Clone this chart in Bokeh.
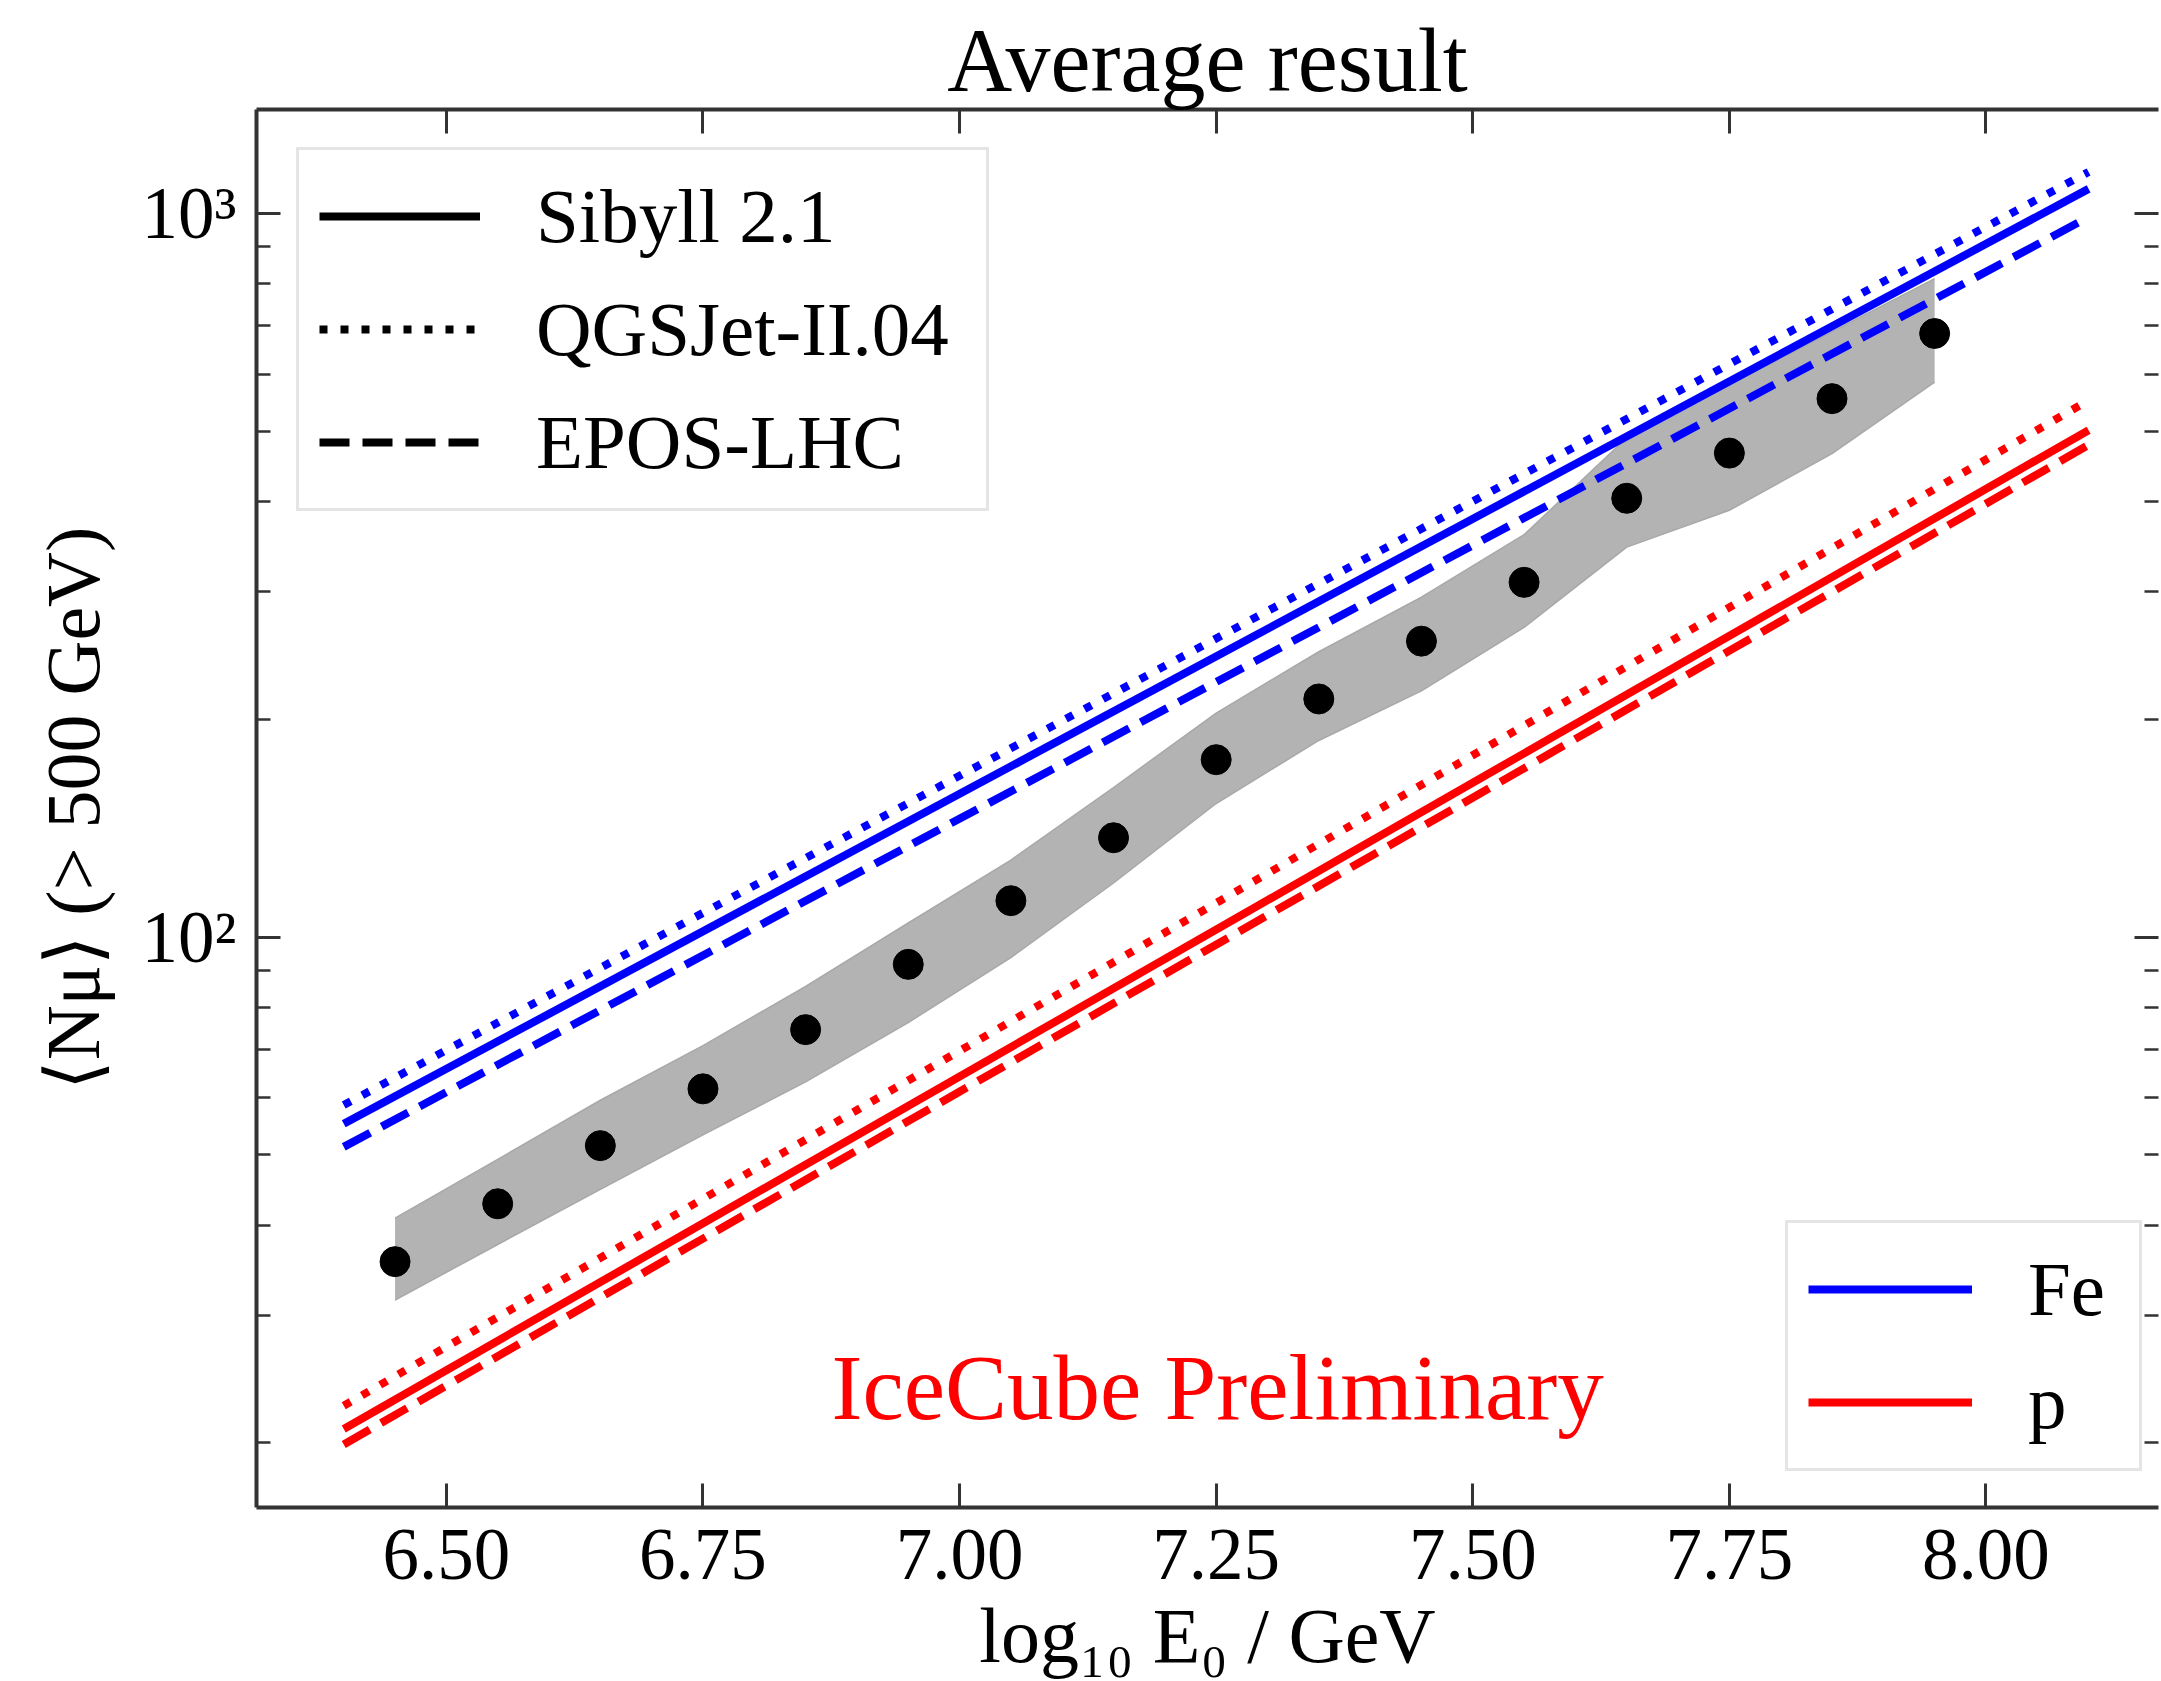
from bokeh.plotting import figure
from bokeh.models import (Range1d, LinearAxis, LogAxis, FixedTicker, PrintfTickFormatter,
                          CustomJSTickFormatter, Legend, LegendItem, Label)
from bokeh.embed import file_html
from bokeh.resources import INLINE

# ---------------- data ----------------
x_points = [6.45, 6.55, 6.65, 6.75, 6.85, 6.95, 7.05, 7.15,
            7.25, 7.35, 7.45, 7.55, 7.65, 7.75, 7.85, 7.95]
n_mu = [35.6, 42.8, 51.5, 61.7, 74.5, 91.7, 112.3, 137.2,
        175.9, 213.4, 256.5, 309.3, 404.2, 466.7, 555.0, 682.8]
band_upper = [40.9, 49.3, 59.5, 70.8, 85.5, 104.6, 127.8, 161.0,
              204.0, 248.0, 295.0, 360.0, 490.0, 580.0, 687.0, 813.0]
band_lower = [31.5, 37.6, 44.8, 53.3, 63.1, 76.2, 93.7, 118.8,
              153.0, 187.0, 219.0, 268.0, 346.0, 389.0, 466.0, 585.0]

x_model = [6.4, 8.1]
fe_sibyll = [55.2, 1082.0]
fe_qgsjet = [58.6, 1142.0]
fe_epos = [51.3, 989.0]
p_sibyll = [20.9, 502.0]
p_qgsjet = [22.5, 552.0]
p_epos = [19.9, 479.0]

x_ticks = [6.50, 6.75, 7.00, 7.25, 7.50, 7.75, 8.00]
y_major_ticks = [100, 1000]
y_tick_labels = {100: "10\u00b2", 1000: "10\u00b3"}
y_minor_ticks = [20, 30, 40, 50, 60, 70, 80, 90,
                 200, 300, 400, 500, 600, 700, 800, 900]

model_names = ["Sibyll 2.1", "QGSJet-II.04", "EPOS-LHC"]
element_names = ["Fe", "p"]

# legend proxy lines sit outside the visible ranges
proxy_x = [6.0, 6.1]
proxy_y = [1.0, 1.0]

# ---------------- style ----------------
FONT = "Liberation Serif"
SPINE = "#333333"
DOT = "8 13"
DASH = "30 13"
LW = 8

W, H = 2161, 1681
p = figure(width=W, height=H,
           x_range=Range1d(6.315, 8.1681), y_range=Range1d(16.28, 1393.0),
           y_axis_type="log", output_backend="svg", toolbar_location=None,
           min_border_left=256, min_border_right=3, min_border_top=109,
           min_border_bottom=173)
p.outline_line_color = None
p.xgrid.visible = False
p.ygrid.visible = False
p.background_fill_color = "white"
p.border_fill_color = "white"

p.title.text = "Average result"
p.title.text_font = FONT
p.title.text_font_size = "90px"
p.title.text_font_style = "normal"
p.title.text_color = "black"
p.title.align = "center"
p.title.standoff = 0
p.title.offset = 7


def style_axis(ax, labels=True):
    ax.axis_line_color = SPINE
    ax.axis_line_width = 4
    ax.major_tick_in = 24
    ax.major_tick_out = 0
    ax.minor_tick_in = 14
    ax.minor_tick_out = 0
    ax.major_tick_line_color = SPINE
    ax.minor_tick_line_color = SPINE
    ax.major_tick_line_width = 3
    ax.minor_tick_line_width = 2.5
    ax.major_label_text_font = FONT
    ax.major_label_text_font_size = "73px" if labels else "1px"
    ax.major_label_text_color = "black"
    ax.axis_label_text_font = FONT
    ax.axis_label_text_font_style = "normal"
    ax.axis_label_text_color = "black"


# bottom axis
xb = p.xaxis[0]
xb.ticker = FixedTicker(ticks=x_ticks, minor_ticks=[])
xb.formatter = PrintfTickFormatter(format="%.2f")
style_axis(xb)
xb.major_label_standoff = 22
xb.axis_label = "log\u2081\u2080 E\u2080 / GeV"
xb.axis_label_text_font_size = "78px"
xb.axis_label_standoff = 10

# left axis
yl = p.yaxis[0]
yl.ticker = FixedTicker(ticks=y_major_ticks, minor_ticks=y_minor_ticks)
yl.major_label_overrides = y_tick_labels
style_axis(yl)
yl.major_label_standoff = 20
yl.axis_label = "\u27e8N\u03bc\u27e9 (> 500 GeV)"
yl.axis_label_text_font_size = "76px"
yl.axis_label_standoff = 24

# top axis (ticks only)
xt = LinearAxis(ticker=FixedTicker(ticks=x_ticks, minor_ticks=[]),
                formatter=CustomJSTickFormatter(code="return ''"))
style_axis(xt, labels=False)
xt.major_label_standoff = 0
p.add_layout(xt, "above")

# right axis (ticks only, spine cut off as in the reference)
yr = LogAxis(ticker=FixedTicker(ticks=y_major_ticks, minor_ticks=y_minor_ticks),
             formatter=CustomJSTickFormatter(code="return ''"))
style_axis(yr, labels=False)
yr.axis_line_color = None
yr.major_label_standoff = 0
p.add_layout(yr, "right")

# ---------------- glyphs ----------------
p.varea(x=x_points, y1=band_lower, y2=band_upper, fill_color="#b3b3b3")
p.line(x_points, band_upper, line_color="#a8a8a8", line_width=1.5)
p.line(x_points, band_lower, line_color="#a8a8a8", line_width=1.5)

r_fe_s = p.line(x_model, fe_sibyll, line_color="blue", line_width=LW)
p.line(x_model, fe_qgsjet, line_color="blue", line_width=LW, line_dash=DOT)
p.line(x_model, fe_epos, line_color="blue", line_width=LW, line_dash=DASH)
r_p_s = p.line(x_model, p_sibyll, line_color="red", line_width=LW)
p.line(x_model, p_qgsjet, line_color="red", line_width=LW, line_dash=DOT)
p.line(x_model, p_epos, line_color="red", line_width=LW, line_dash=DASH)

p.scatter(x_points, n_mu, size=30, color="black")

# legend proxies (black line styles)
k_s = p.line(proxy_x, proxy_y, line_color="black", line_width=LW)
k_q = p.line(proxy_x, proxy_y, line_color="black", line_width=LW, line_dash=DOT)
k_e = p.line(proxy_x, proxy_y, line_color="black", line_width=LW, line_dash=DASH)

common = dict(orientation="vertical", glyph_height=92, spacing=21, padding=20,
              margin=0, label_standoff=56, label_text_font=FONT,
              label_text_font_size="77px", label_text_baseline="middle",
              label_text_color="black", border_line_color="#cccccc",
              border_line_width=3, background_fill_color="white",
              background_fill_alpha=1.0)

leg1 = Legend(items=[LegendItem(label=model_names[0], renderers=[k_s]),
                     LegendItem(label=model_names[1], renderers=[k_q]),
                     LegendItem(label=model_names[2], renderers=[k_e])],
              location=(40, 996), glyph_width=161, label_width=430, **common)
leg2 = Legend(items=[LegendItem(label=element_names[0], renderers=[r_fe_s]),
                     LegendItem(label=element_names[1], renderers=[r_p_s])],
              location=(1529, 36), glyph_width=164, label_width=91, **common)
p.add_layout(leg1, "center")
p.add_layout(leg2, "center")

# ---------------- texts ----------------
p.add_layout(Label(x=575, y=120, x_units="screen", y_units="screen",
                   text="IceCube Preliminary", text_color="red", text_font=FONT,
                   text_font_size="93px", text_align="left",
                   text_baseline="middle"))

open("out.html", "w").write(file_html(p, INLINE))
